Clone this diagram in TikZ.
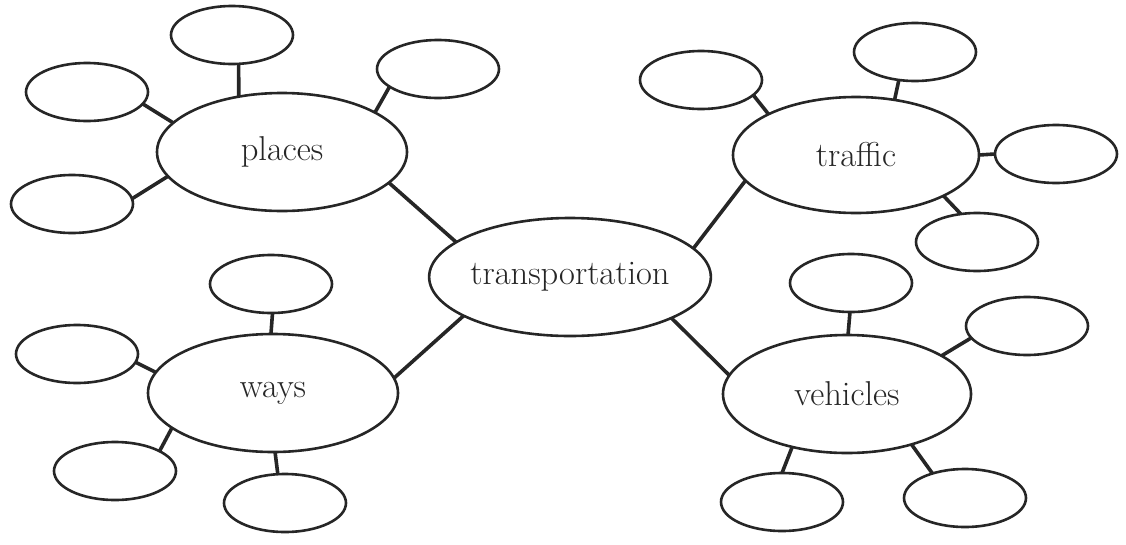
\documentclass[tikz,border=0pt]{standalone}
\usetikzlibrary{shapes.geometric}
\begin{document}
\begin{tikzpicture}[x=1pt,y=-1pt,
  big/.style={draw=black!85, ellipse, line width=2.6pt, outer sep=0pt, inner sep=0pt,
    text=black!85, font=\fontsize{34.5}{40}\selectfont},
  small/.style={draw=black!85, ellipse, line width=2.6pt, outer sep=0pt, inner sep=0pt,
    minimum width=122pt, minimum height=58pt},
  link/.style={draw=black!85, line width=3.6pt}]
\useasboundingbox (0,0) rectangle (1126,544);
% main nodes
\node[big, minimum width=238pt, minimum height=118pt] (tr) at (570,277) {transportation};
\node[big, minimum width=250pt, minimum height=118pt] (pl) at (282,152) {places};
\node[big, minimum width=246pt, minimum height=116pt] (tf) at (856,155) {traffic};
\node[big, minimum width=250pt, minimum height=118pt] (wy) at (273,393) {ways};
\node[big, minimum width=248pt, minimum height=118pt] (vh) at (847,394) {vehicles};
% places leaves
\node[small] (p1) at (232,35) {};
\node[small] (p2) at (87,92) {};
\node[small] (p3) at (72,204) {};
\node[small] (p4) at (438,69) {};
% traffic leaves
\node[small] (t1) at (701,80) {};
\node[small] (t2) at (915,52) {};
\node[small] (t3) at (1056,154) {};
\node[small] (t4) at (977,242) {};
% ways leaves
\node[small] (w1) at (271,284) {};
\node[small] (w2) at (77,354) {};
\node[small] (w3) at (115,471) {};
\node[small] (w4) at (285,503) {};
% vehicles leaves
\node[small] (v1) at (851,283) {};
\node[small] (v2) at (1027,326) {};
\node[small] (v3) at (782,502) {};
\node[small] (v4) at (965,498) {};
% connectors to centre
\draw[link] (pl.344) -- (tr.163);
\draw[link] (tf.193.5) -- (tr.13);
\draw[link] (wy.7.5) -- (tr.200);
\draw[link] (vh.171) -- (tr.338);
% places
\draw[link] (p1.283) -- (pl.128);
\draw[link] (p2.-12) -- (pl.165);
\draw[link] (p3.5) -- (pl.192);
\draw[link] (p4.200) -- (pl.23.5);
% traffic
\draw[link] (t1.344) -- (tf.155.5);
\draw[link] (t2.240) -- (tf.55);
\draw[link] (t3.180) -- (tf.0);
\draw[link] (t4.120) -- (tf.335);
% ways
\draw[link] (w1.273) -- (wy.92);
\draw[link] (w2.352) -- (wy.170);
\draw[link] (w3.24) -- (wy.199);
\draw[link] (w4.104) -- (wy.272);
% vehicles
\draw[link] (v1.268) -- (vh.89);
\draw[link] (v2.192) -- (vh.22);
\draw[link] (v3.90) -- (vh.224);
\draw[link] (v4.143) -- (vh.322);
\end{tikzpicture}
\end{document}
